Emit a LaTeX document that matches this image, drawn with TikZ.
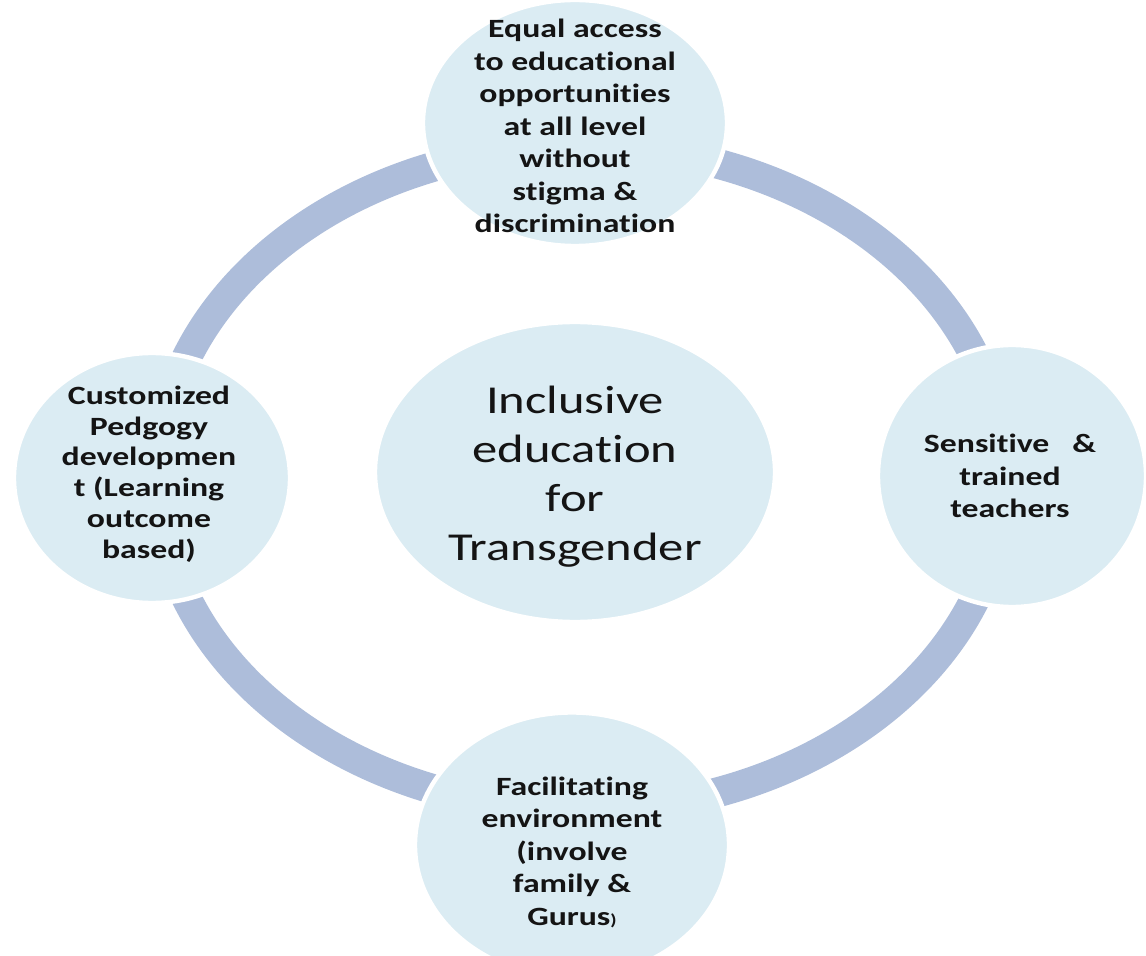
\documentclass[tikz,border=0pt]{standalone}
\usepackage{fontspec}
\setmainfont{Carlito}[FakeStretch=1.28,Ligatures=NoCommon]
\usetikzlibrary{shapes,positioning}

\definecolor{bubblefill}{RGB}{219,236,243}
\definecolor{bandblue}{RGB}{173,189,218}
\definecolor{inkblack}{RGB}{20,20,20}

\begin{document}
\begin{tikzpicture}
    \tikzstyle{bubble}=[ellipse,inner sep=0pt,draw=white,line width=2.5pt,fill=bubblefill]
    \tikzstyle{sidetext}=[align=center,inner sep=0pt,text=inkblack,font=\fontsize{15}{18.5}\selectfont\bfseries]  % outer topics
    \tikzstyle{hubtext}=[align=center,inner sep=0pt,text=inkblack,font=\fontsize{22.5}{27.9}\selectfont]        % centre topic
    \tikzstyle{band}=[line width=0.6cm,draw=bandblue]   % ring

    \useasboundingbox (0,0) rectangle (22.92,-19.12);

    \coordinate (ring) at (11.62,-9.56);
    \draw[band] (ring) ellipse [x radius=8.46cm,y radius=6.64cm];

    \node[bubble,minimum width=6.08cm,minimum height=4.92cm] (accessbg) at (11.50,-2.46) {};
    \node[bubble,minimum width=5.52cm,minimum height=5.00cm] (pedbg)    at (3.04,-9.56) {};
    \node[bubble,minimum width=5.36cm,minimum height=5.24cm] (teachbg)  at (20.24,-9.52) {};
    \node[bubble,minimum width=6.28cm,minimum height=5.30cm] (envbg)    at (11.44,-16.90) {};
    \node[bubble,minimum width=8.00cm,minimum height=6.00cm] (hubbg)    at (11.50,-9.44) {};

    \node[sidetext] (access) at (11.50,-2.52) {Equal access\\to educational\\opportunities\\at all level\\without\\stigma \&\\discrimination};
    \node[sidetext,font=\fontsize{15}{17.5}\selectfont\bfseries] (ped) at (2.98,-9.48) {Customized\\Pedgogy\\developmen\\t (Learning\\outcome\\based)};
    \node[sidetext] (teach)  at (20.20,-9.52) {Sensitive\ \ \ \&\\trained\\teachers};
    \node[sidetext] (env)    at (11.44,-17.04) {Facilitating\\environment\\(involve\\family \&\\Gurus{\fontsize{9}{10}\selectfont)}};
    \node[hubtext]  (hub)    at (11.50,-9.54) {Inclusive\\education\\for\\Transgender};
\end{tikzpicture}
\end{document}
